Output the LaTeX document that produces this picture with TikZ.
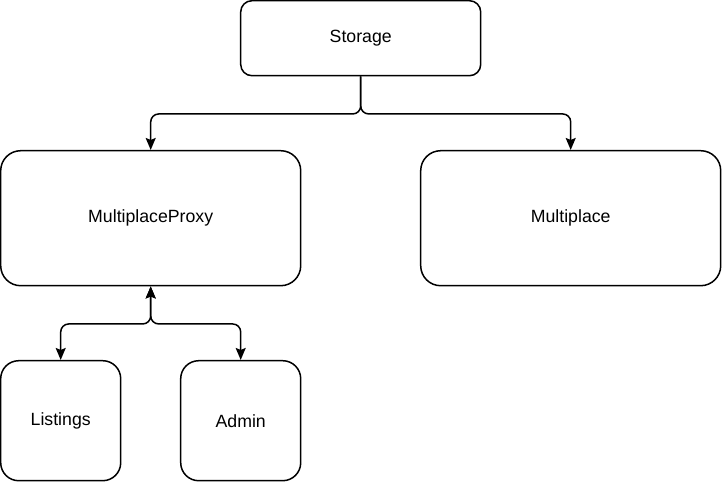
\documentclass[tikz,border=0pt]{standalone}
\usepackage{fontspec}
\setmainfont{Liberation Sans}
\usetikzlibrary{arrows.meta}
\begin{document}
\begin{tikzpicture}[x=1pt, y=-1pt, line width=1.5pt,
    >={Stealth[length=12pt, width=10pt, inset=2pt]},
    box/.style={draw, rectangle, inner sep=0pt, font=\fontsize{17.7}{21}\selectfont}]
  \useasboundingbox (0,0) rectangle (722,482);
  % boxes
  \node [box, minimum width=240pt, minimum height=75pt, rounded corners=11.25pt] (storage) at (360.7,38.2) {Storage};
  \node [box, minimum width=300pt, minimum height=135pt, rounded corners=20pt] (proxy) at (150.7,218.2) {MultiplaceProxy};
  \node [box, minimum width=300pt, minimum height=135pt, rounded corners=20pt] (multiplace) at (570.7,218.2) {Multiplace};
  \node [box, minimum width=120pt, minimum height=120pt, rounded corners=18pt] (listings) at (60.7,420.7) {Listings};
  \node [box, minimum width=120pt, minimum height=120pt, rounded corners=18pt] (admin) at (240.7,420.7) {Admin};
  % connectors
  \draw [->, rounded corners=8pt] (storage.south) -- ++(0,37.5) -| (proxy.north);
  \draw [->, rounded corners=8pt] (storage.south) -- ++(0,37.5) -| (multiplace.north);
  \draw [<->, rounded corners=8pt] (proxy.south) -- ++(0,37.5) -| (listings.north);
  \draw [<->, rounded corners=8pt] (proxy.south) -- ++(0,37.5) -| (admin.north);
\end{tikzpicture}
\end{document}
